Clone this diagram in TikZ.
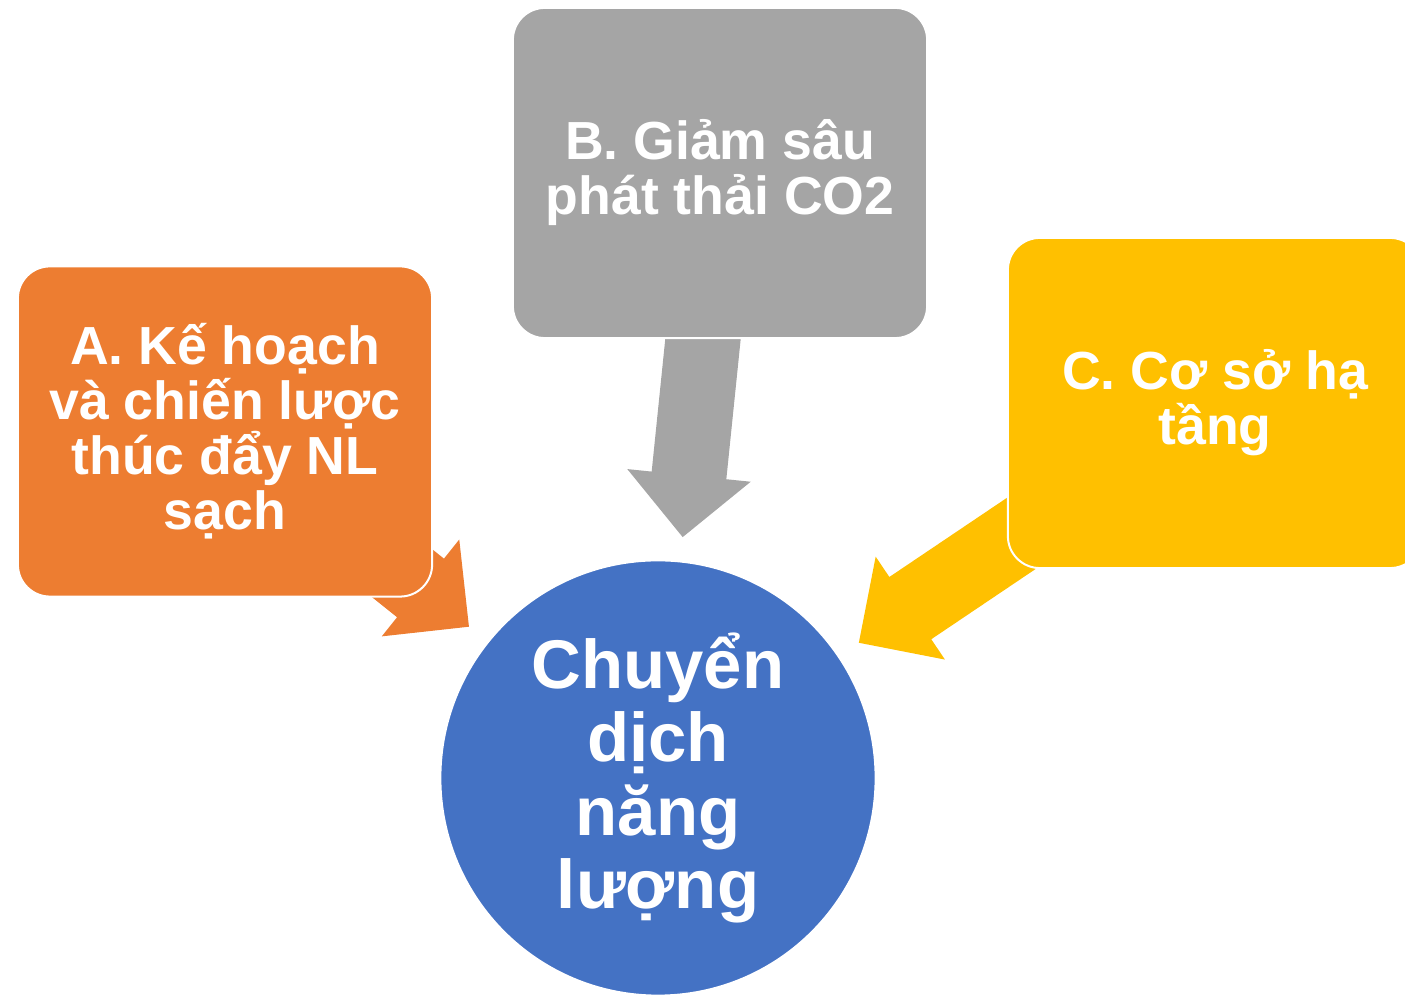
\documentclass[tikz,border=0pt]{standalone}
\usepackage{fontspec}
\setmainfont{Liberation Sans}
\usetikzlibrary{calc,backgrounds}

\definecolor{planorange}{HTML}{ED7D31}
\definecolor{cutgray}{HTML}{A5A5A5}
\definecolor{infragold}{HTML}{FFC000}
\definecolor{goalblue}{HTML}{4472C4}

\tikzset{
  stage/.style={rectangle, rounded corners=0.32cm, draw=white, line width=0.02cm,
    minimum width=4.14cm, minimum height=3.3cm, inner sep=0pt, align=center,
    text=white, font=\fontsize{15.25}{15.65}\selectfont\bfseries},
  goal/.style={circle, draw=white, line width=0.02cm, fill=goalblue,
    minimum size=4.35cm, inner sep=0pt, align=center,
    text=white, font=\fontsize{19.6}{20.8}\selectfont\bfseries}
}

\begin{document}
\begin{tikzpicture}[x=0.01cm, y=-0.01cm]

    \useasboundingbox (0,0) rectangle (1405,995);
    \clip (0,0) rectangle (1405,995);

    % Hình tròn trung tâm
    \node[goal] (goal) at (658,778) {Chuyển\\dịch\\năng\\lượng};

    % Ba khối
    \node[stage, fill=planorange] (plan)  at (225,431.5) {A. Kế hoạch\\và chiến lược\\thúc đẩy NL\\sạch};
    \node[stage, fill=cutgray]    (cut)   at (720,173)   {B. Giảm sâu\\phát thải CO2};
    \node[stage, fill=infragold]  (infra) at (1215,403)  {C. Cơ sở hạ\\tầng};

    % Mũi tên khối (nằm dưới các khối)
    \def\shaftHalf{0.375cm}
    \def\headHalf{0.62cm}
    \def\headLen{0.62cm}
    \begin{pgfonlayer}{background}
      \foreach \from/\col in {plan/planorange, cut/cutgray, infra/infragold} {
        \coordinate (tip)  at ($(goal.center)!2.42cm!(\from.center)$);
        \coordinate (base) at ($(tip)!\headLen!(\from.center)$);
        \fill[\col] ($(\from.center)!\shaftHalf!90:(tip)$)
          -- ($(base)!\shaftHalf!90:(tip)$) -- ($(base)!\headHalf!90:(tip)$)
          -- (tip)
          -- ($(base)!\headHalf!-90:(tip)$) -- ($(base)!\shaftHalf!-90:(tip)$)
          -- ($(\from.center)!\shaftHalf!-90:(tip)$) -- cycle;
      }
    \end{pgfonlayer}

\end{tikzpicture}
\end{document}
